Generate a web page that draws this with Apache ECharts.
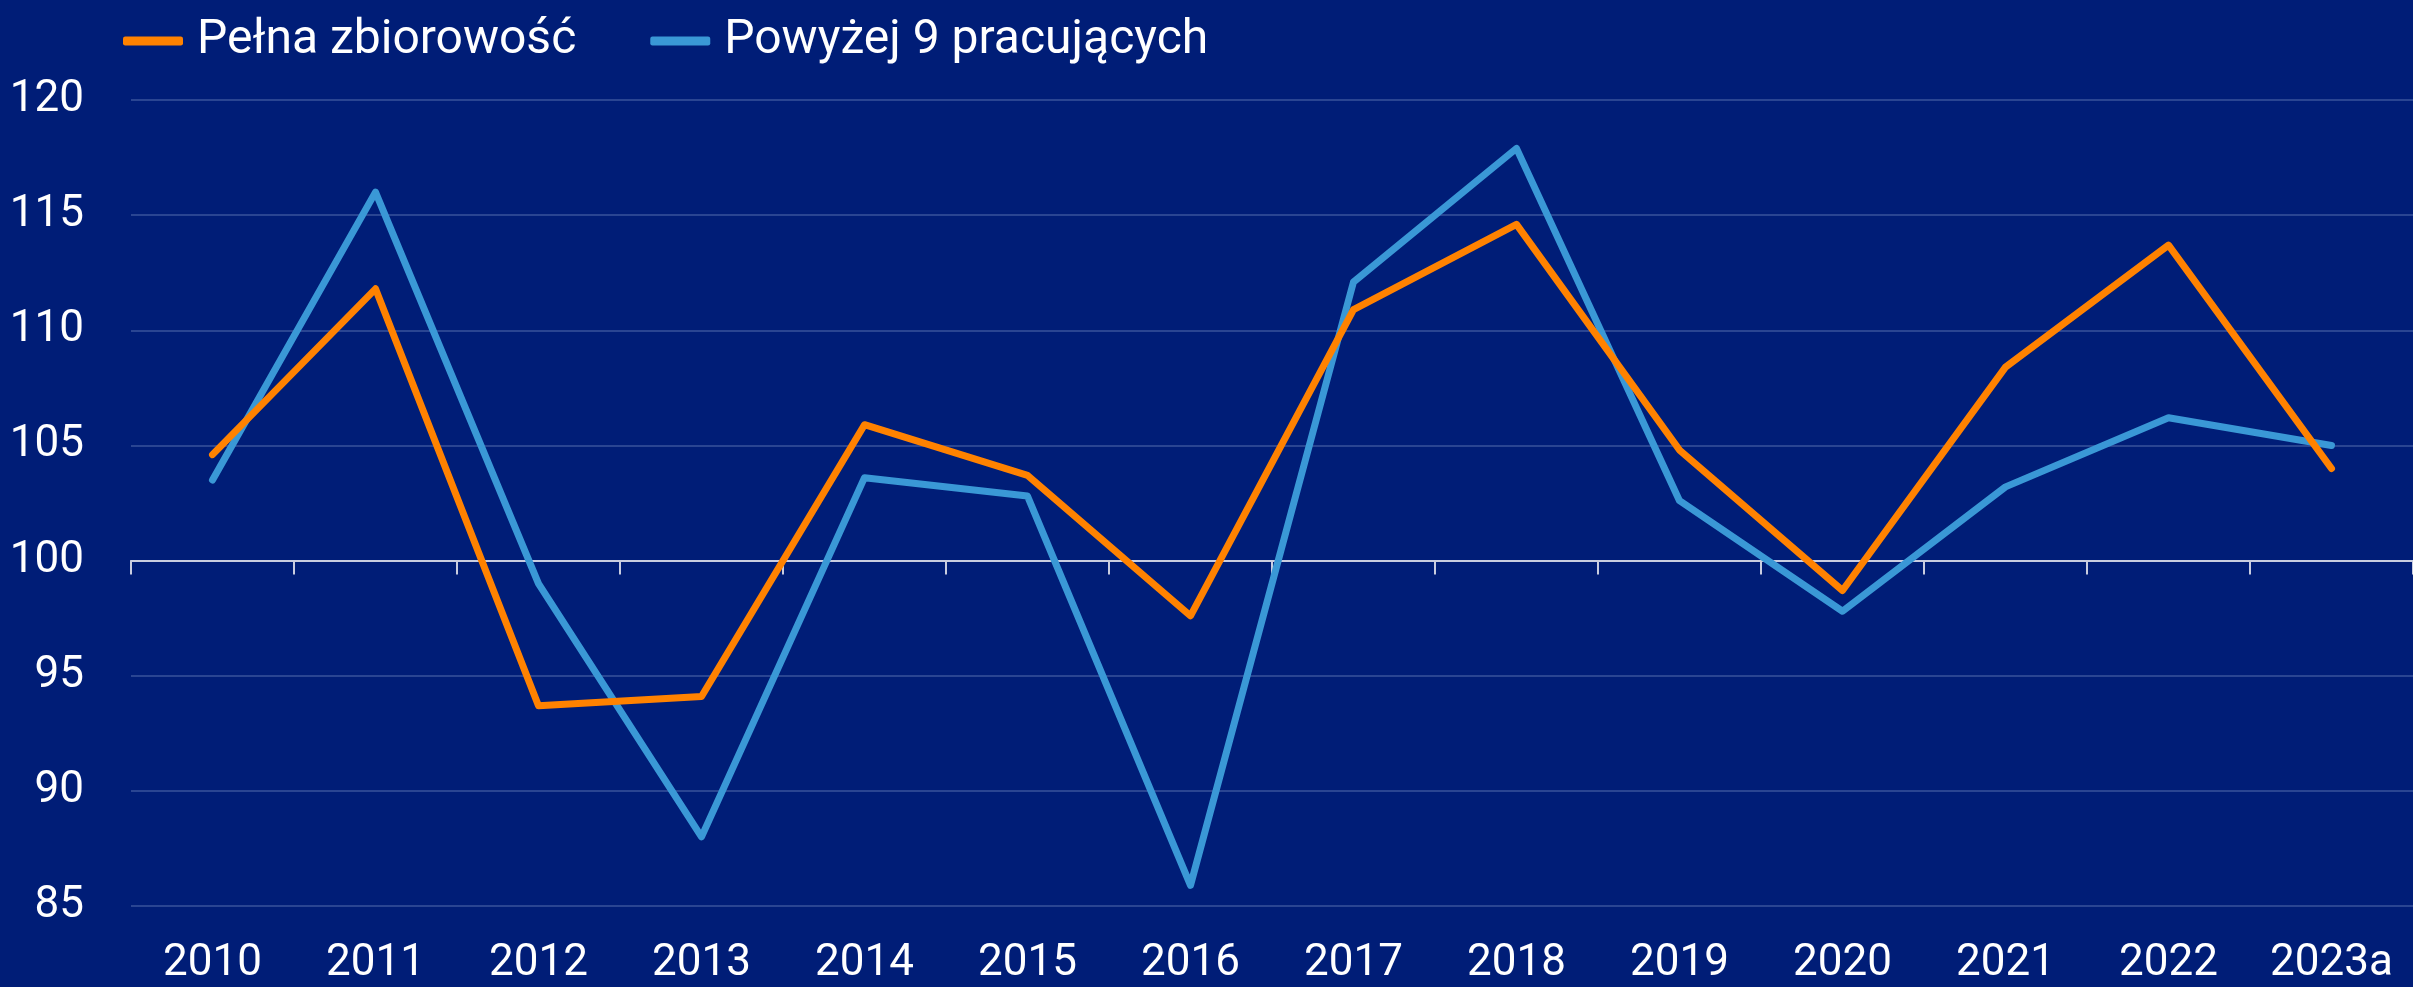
<!DOCTYPE html>
<html>
<head>
<meta charset="utf-8">
<script src="https://cdn.jsdelivr.net/npm/echarts@6/dist/echarts.min.js"></script>
<style>
  html, body { margin: 0; padding: 0; background: #001d77; }
  #chart { width: 2413px; height: 987px; }
</style>
</head>
<body>
<div id="chart"></div>
<script>
// dane
const years = ['2010', '2011', '2012', '2013', '2014', '2015', '2016', '2017', '2018', '2019', '2020', '2021', '2022', '2023a']
const pelna = [104.6, 111.8, 93.7, 94.1, 105.9, 103.7, 97.6, 110.9, 114.6, 104.8, 98.7, 108.4, 113.7, 104.0]
const powyzej9 = [103.5, 116.0, 99.0, 88.0, 103.6, 102.8, 85.9, 112.1, 117.9, 102.6, 97.8, 103.2, 106.2, 105.0]
const yTicks = [85, 90, 95, 100, 105, 110, 115, 120]

// oś X ma przecinać się z osią Y na 100, więc przesuwamy dane o bazę
const BASE = 100
const shift = arr => arr.map(v => +(v - BASE).toFixed(2))

const FONT = '"Roboto", sans-serif'
const chart = echarts.init(document.getElementById('chart'))

const option = {
    backgroundColor: '#001d77',
    animation: false,
    textStyle: { fontFamily: FONT },
    legend: {
        left: 118,
        top: 12,
        icon: 'roundRect',
        itemWidth: 60,
        itemHeight: 9,
        itemGap: 74,
        textStyle: { color: '#ffffff', fontSize: 48, fontFamily: FONT, padding: [0, 0, 0, 9] },
        data: ['Pełna zbiorowość', 'Powyżej 9 pracujących']
    },
    grid: { left: 131, right: 0, top: 100, bottom: 81 },
    xAxis: [
        {
            // linia przy 100 z kreskami
            type: 'category',
            data: years,
            boundaryGap: true,
            axisLine: { onZero: true, lineStyle: { color: '#c9cde0', width: 2 } },
            axisTick: { show: true, length: 14, lineStyle: { color: '#c9cde0', width: 2 } },
            axisLabel: { show: false }
        },
        {
            // etykiety lat na dole
            type: 'category',
            data: years,
            position: 'bottom',
            boundaryGap: true,
            axisLine: { show: false },
            axisTick: { show: false },
            axisLabel: { color: '#ffffff', fontSize: 44, fontFamily: FONT, margin: 36, interval: 0 }
        }
    ],
    yAxis: {
        type: 'value',
        min: yTicks[0] - BASE,
        max: yTicks[yTicks.length - 1] - BASE,
        interval: 5,
        axisLine: { show: false },
        axisTick: { show: false },
        axisLabel: {
            color: '#ffffff',
            fontSize: 44,
            fontFamily: FONT,
            margin: 47,
            formatter: v => String(v + BASE)
        },
        splitLine: { lineStyle: { color: '#2a4592', width: 2 } }
    },
    series: [
        {
            name: 'Pełna zbiorowość',
            type: 'line',
            data: shift(pelna),
            symbol: 'none',
            color: '#ff8200',
            lineStyle: { width: 7, cap: 'round', join: 'round' },
            z: 3
        },
        {
            name: 'Powyżej 9 pracujących',
            type: 'line',
            data: shift(powyzej9),
            symbol: 'none',
            color: '#3a98d6',
            lineStyle: { width: 7, cap: 'round', join: 'round' },
            z: 2
        }
    ]
}

chart.setOption(option)
</script>
</body>
</html>
